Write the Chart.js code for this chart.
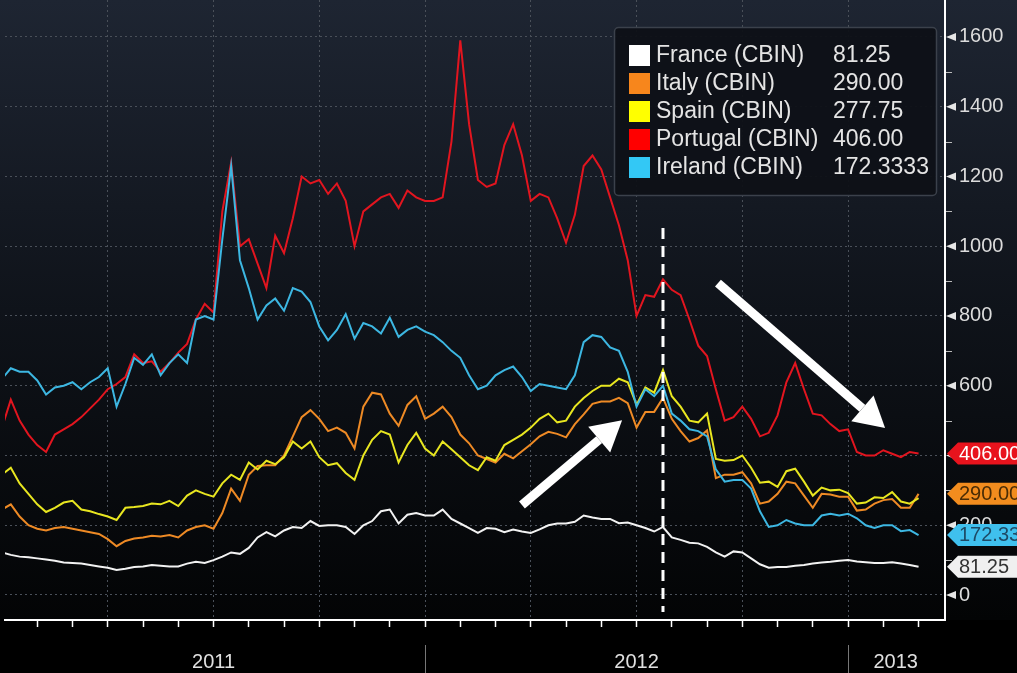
<!DOCTYPE html>
<html>
<head>
<meta charset="utf-8">
<script src="https://cdn.jsdelivr.net/npm/chart.js@4.4.0/dist/chart.umd.min.js"></script>
<style>
html, body { margin: 0; padding: 0; background: #000; }
#wrap { width: 1017px; height: 673px; }
</style>
</head>
<body>
<div id="wrap"><canvas id="cds" width="1017" height="673"></canvas></div>
<script>
// sample times, in months since 1 Jan 2011 (roughly weekly)
var t = [
  0, 0.25, 0.5, 0.75, 1, 1.25, 1.5, 1.75,
  2, 2.25, 2.5, 2.75, 3, 3.25, 3.5, 3.75,
  4, 4.25, 4.5, 4.75, 5, 5.25, 5.5, 5.75,
  6, 6.25, 6.5, 6.75, 7, 7.25, 7.5, 7.75,
  8, 8.25, 8.5, 8.75, 9, 9.25, 9.5, 9.75,
  10, 10.25, 10.5, 10.75, 11, 11.25, 11.5, 11.75,
  12, 12.25, 12.5, 12.75, 13, 13.25, 13.5, 13.75,
  14, 14.25, 14.5, 14.75, 15, 15.25, 15.5, 15.75,
  16, 16.25, 16.5, 16.75, 17, 17.25, 17.5, 17.75,
  18, 18.25, 18.5, 18.75, 19, 19.25, 19.5, 19.75,
  20, 20.25, 20.5, 20.75, 21, 21.25, 21.5, 21.75,
  22, 22.25, 22.5, 22.75, 23, 23.25, 23.5, 23.75,
  24, 24.25, 24.5, 24.75, 25, 25.25, 25.5, 25.75,
  26
];

var france = [
  122, 115, 110, 108, 105, 102, 98, 93, 92, 90,
  86, 82, 78, 72, 75, 80, 82, 86, 84, 82,
  82, 90, 95, 92, 100, 110, 122, 118, 135, 165,
  180, 168, 185, 195, 192, 212, 198, 200, 200, 195,
  175, 200, 212, 240, 245, 205, 230, 235, 228, 228,
  245, 218, 205, 192, 178, 192, 190, 180, 188, 182,
  178, 188, 200, 205, 205, 210, 228, 222, 218, 218,
  206, 208, 200, 192, 182, 195, 165, 158, 150, 148,
  138, 122, 110, 125, 122, 105, 88, 78, 80, 80,
  84, 86, 90, 93, 95, 98, 100, 96, 94, 92,
  92, 94, 90, 86, 81
];

var italy = [
  245, 260, 225, 200, 190, 185, 192, 195, 190, 185,
  180, 175, 160, 140, 155, 162, 165, 170, 168, 172,
  165, 185, 195, 200, 190, 235, 305, 270, 345, 370,
  372, 372, 400, 455, 510, 530, 505, 470, 480, 465,
  420, 540, 580, 575, 520, 485, 545, 570, 505, 520,
  540, 510, 460, 435, 400, 390, 380, 405, 392, 412,
  432, 455, 468, 462, 452, 490, 518, 548, 555, 555,
  565, 550, 480, 525, 525, 565, 505, 470, 440, 450,
  472, 335, 345, 345, 352, 320, 262, 268, 290, 325,
  320, 285, 250, 290, 288, 282, 282, 242, 245, 262,
  272, 275, 250, 250, 290
];

var spain = [
  345, 365, 320, 290, 260, 238, 250, 265, 270, 245,
  240, 232, 225, 215, 250, 252, 255, 262, 260, 270,
  255, 285, 300, 290, 282, 320, 345, 330, 380, 360,
  385, 375, 395, 440, 420, 440, 395, 372, 378, 350,
  330, 400, 445, 470, 460, 380, 430, 465, 420, 400,
  440, 418, 395, 372, 358, 395, 385, 430, 445, 460,
  480, 505, 520, 495, 500, 540, 565, 585, 600, 600,
  620, 610, 545, 595, 580, 645, 570, 540, 500, 495,
  520, 390, 385, 387, 400, 365, 322, 325, 310, 355,
  362, 325, 285, 308, 300, 302, 292, 262, 265, 280,
  278, 295, 268, 262, 278
];

var portugal = [
  480, 560, 500, 460, 430, 410, 460, 475, 490, 510,
  535, 560, 590, 605, 625, 690, 665, 670, 640, 665,
  695, 720, 790, 835, 810, 1100, 1240, 1000, 1020, 950,
  880, 1030, 980, 1080, 1200, 1180, 1190, 1150, 1180, 1130,
  1000, 1100, 1120, 1140, 1150, 1110, 1160, 1140, 1130, 1130,
  1140, 1300, 1590, 1350, 1190, 1170, 1180, 1290, 1350, 1260,
  1130, 1150, 1140, 1080, 1010, 1090, 1230, 1260, 1220, 1140,
  1060, 960, 800, 860, 855, 905, 875, 860, 790, 715,
  685, 590, 500, 510, 540, 505, 455, 465, 515, 610,
  665, 590, 520, 515, 490, 470, 475, 410, 400, 400,
  415, 405, 395, 410, 406
];

var ireland = [
  620, 650, 640, 640, 615, 575, 595, 600, 610, 590,
  610, 625, 650, 540, 605, 680, 660, 690, 630, 665,
  690, 665, 790, 800, 790, 1020, 1230, 960, 880, 790,
  830, 850, 815, 880, 870, 840, 770, 730, 760, 805,
  735, 780, 770, 750, 795, 740, 760, 770, 755, 745,
  725, 700, 680, 630, 590, 600, 630, 645, 655, 625,
  585, 605, 600, 595, 590, 630, 725, 745, 740, 710,
  700, 640, 540, 590, 570, 600, 520, 500, 475, 470,
  455, 360, 325, 330, 330, 305, 240, 195, 200, 215,
  205, 200, 200, 228, 233, 228, 233, 220, 200, 192,
  200, 200, 183, 186, 172
];

var names = ['France (CBIN)', 'Italy (CBIN)', 'Spain (CBIN)', 'Portugal (CBIN)', 'Ireland (CBIN)'];
var lastText = ['81.25', '290.00', '277.75', '406.00', '172.3333'];
var lastVal = [81.25, 290, 277.75, 406, 172.3333];
var tagText = ['81.25', '290.00', '277.75', '406.00', '172.33'];

var yTicks = [0, 200, 400, 600, 800, 1000, 1200, 1400, 1600];
var yMinor = [100, 300, 500, 700, 900, 1100, 1300, 1500];
var years = ['2011', '2012', '2013'];
var yearPos = [6, 18, 25.35];
var yearBreaks = [12, 24];

// annotations, in months / bp
var marker = { x: 18.75, from: 1052, to: -49 };
var arrows = [
  { x1: 14.75, y1: 258, x2: 17.59, y2: 501 },
  { x1: 20.31, y1: 894, x2: 25.05, y2: 479 }
];

var lineCol = ['#f2f2f2', '#ee8a25', '#e8e620', '#e2151f', '#3db7e2'];
var swatchCol = ['#ffffff', '#f7861c', '#ffff00', '#ff0000', '#33c8f5'];
var tagFill = ['#f0f0f0', '#f28c1e', '#f0ee1c', '#e8131d', '#3fc0ee'];
var tagInk = ['#333333', '#4a2c05', '#333333', '#ffffff', '#1d4a66'];

function pts(arr) {
  return arr.map(function(v, i) { return { x: t[i], y: v }; });
}

var FONT = '"Liberation Sans", Arial, sans-serif';

var deco = {
  id: 'deco',
  beforeDraw: function(chart) {
    var c = chart.ctx;
    c.save();
    c.fillStyle = '#000';
    c.fillRect(0, 0, chart.width, chart.height);
    var g = c.createLinearGradient(0, 0, 0, 620);
    g.addColorStop(0, '#1e2532');
    g.addColorStop(0.5, '#0f131a');
    g.addColorStop(1, '#030405');
    c.fillStyle = g;
    c.fillRect(0, 0, chart.width, 620);
    c.restore();
  },
  afterDatasetsDraw: function(chart) {
    var c = chart.ctx, xs = chart.scales.x, ys = chart.scales.y;
    c.save();
    // dashed marker line
    var mx = xs.getPixelForValue(marker.x);
    c.strokeStyle = '#fff';
    c.lineWidth = 3;
    c.setLineDash([11, 7]);
    c.beginPath();
    c.moveTo(mx, ys.getPixelForValue(marker.from));
    c.lineTo(mx, ys.getPixelForValue(marker.to));
    c.stroke();
    c.setLineDash([]);
    // arrows
    arrows.forEach(function(a) {
      var x1 = xs.getPixelForValue(a.x1), y1 = ys.getPixelForValue(a.y1);
      var x2 = xs.getPixelForValue(a.x2), y2 = ys.getPixelForValue(a.y2);
      var ang = Math.atan2(y2 - y1, x2 - x1);
      var hl = 30, hw = 17;
      var bx = x2 - hl * Math.cos(ang), by = y2 - hl * Math.sin(ang);
      c.strokeStyle = '#fff';
      c.fillStyle = '#fff';
      c.lineWidth = 9;
      c.beginPath();
      c.moveTo(x1, y1);
      c.lineTo(bx, by);
      c.stroke();
      c.beginPath();
      c.moveTo(x2, y2);
      c.lineTo(bx + hw * Math.sin(ang), by - hw * Math.cos(ang));
      c.lineTo(bx - hw * Math.sin(ang), by + hw * Math.cos(ang));
      c.closePath();
      c.fill();
    });
    c.restore();
  },
  afterDraw: function(chart) {
    var c = chart.ctx, xs = chart.scales.x, ys = chart.scales.y;
    var ax = chart.chartArea.right;
    c.save();
    // y tick pointers
    c.fillStyle = '#e6e6e6';
    yTicks.forEach(function(v) {
      var y = ys.getPixelForValue(v);
      c.beginPath();
      c.moveTo(ax + 1, y);
      c.lineTo(ax + 11, y - 4);
      c.lineTo(ax + 11, y + 4);
      c.closePath();
      c.fill();
    });
    c.strokeStyle = '#bbbbbb';
    c.lineWidth = 1;
    yMinor.forEach(function(v) {
      var y = Math.round(ys.getPixelForValue(v)) + 0.5;
      c.beginPath();
      c.moveTo(ax + 1, y);
      c.lineTo(ax + 7, y);
      c.stroke();
    });
    // year separators
    c.strokeStyle = '#777';
    yearBreaks.forEach(function(m) {
      var x = Math.round(xs.getPixelForValue(m)) + 0.5;
      c.beginPath();
      c.moveTo(x, 645);
      c.lineTo(x, 673);
      c.stroke();
    });
    // last value tags (Spain's sits under Italy's and is not shown)
    [1, 3, 4, 0].forEach(function(i) {
      var y = ys.getPixelForValue(lastVal[i]);
      c.fillStyle = tagFill[i];
      c.beginPath();
      c.moveTo(ax + 2, y);
      c.lineTo(ax + 13, y - 11);
      c.lineTo(chart.width, y - 11);
      c.lineTo(chart.width, y + 11);
      c.lineTo(ax + 13, y + 11);
      c.closePath();
      c.fill();
      c.fillStyle = tagInk[i];
      c.font = '20px ' + FONT;
      c.textBaseline = 'middle';
      c.textAlign = 'left';
      c.fillText(tagText[i], ax + 14, y + 1);
    });
    // legend box
    c.fillStyle = 'rgba(14,17,23,0.95)';
    c.strokeStyle = '#3b414b';
    c.lineWidth = 1.5;
    c.beginPath();
    c.roundRect(614.5, 27.5, 322, 168, 4);
    c.fill();
    c.stroke();
    c.font = '23px ' + FONT;
    c.textBaseline = 'middle';
    names.forEach(function(n, i) {
      var y = 55 + i * 28;
      c.fillStyle = swatchCol[i];
      c.fillRect(629, y - 10, 21, 21);
      c.fillStyle = '#e4e4e4';
      c.fillText(n, 656, y + 1);
      c.fillText(lastText[i], 833, y + 1);
    });
    c.restore();
  }
};

var common = { borderWidth: 2, pointRadius: 0, tension: 0, fill: false };

new Chart(document.getElementById('cds'), {
  type: 'line',
  data: {
    datasets: [
      Object.assign({ label: names[0], data: pts(france), borderColor: lineCol[0], order: 1 }, common),
      Object.assign({ label: names[1], data: pts(italy), borderColor: lineCol[1], order: 4 }, common),
      Object.assign({ label: names[2], data: pts(spain), borderColor: lineCol[2], order: 3 }, common),
      Object.assign({ label: names[3], data: pts(portugal), borderColor: lineCol[3], order: 5 }, common),
      Object.assign({ label: names[4], data: pts(ireland), borderColor: lineCol[4], order: 2 }, common)
    ]
  },
  options: {
    responsive: false,
    animation: false,
    devicePixelRatio: 1,
    layout: { padding: { left: 5, top: 0, right: 0, bottom: 0 } },
    plugins: {
      legend: { display: false },
      tooltip: { enabled: false }
    },
    scales: {
      x: {
        type: 'linear',
        min: 0.085,
        max: 26.75,
        afterFit: function(s) {
          s.height = 53;
          s.paddingLeft = 0; s.paddingRight = 0;
        },
        afterBuildTicks: function(s) {
          var ticks = [];
          for (var m = 1; m <= 26; m++) ticks.push({ value: m });
          ticks.push({ value: yearPos[2] });
          ticks.sort(function(a, b) { return a.value - b.value; });
          s.ticks = ticks;
        },
        ticks: {
          autoSkip: false,
          maxRotation: 0,
          padding: 23,
          color: '#e0e0e0',
          font: { family: FONT, size: 20 },
          callback: function(v) {
            var i = yearPos.indexOf(v);
            return i >= 0 ? years[i] : '';
          }
        },
        grid: {
          color: function(ctx) {
            return (ctx.tick && ctx.tick.value % 3 === 0) ? '#4a5059' : 'rgba(0,0,0,0)';
          },
          tickColor: function(ctx) {
            return (ctx.tick && Number.isInteger(ctx.tick.value)) ? '#ffffff' : 'rgba(0,0,0,0)';
          },
          tickLength: 7,
          tickWidth: 1.5,
          lineWidth: 1
        },
        border: { display: true, color: '#ffffff', width: 2, dash: [2, 3] }
      },
      y: {
        type: 'linear',
        position: 'right',
        min: -71.7,
        max: 1706,
        afterFit: function(s) {
          s.width = 72;
          s.paddingTop = 0; s.paddingBottom = 0;
        },
        afterBuildTicks: function(s) {
          s.ticks = yTicks.map(function(v) { return { value: v }; });
        },
        ticks: {
          padding: 14,
          color: '#dcdcdc',
          font: { family: FONT, size: 20 },
          callback: function(v) { return String(v); }
        },
        grid: {
          color: '#4a5059',
          drawTicks: false,
          lineWidth: 1
        },
        border: { display: true, color: '#ffffff', width: 2, dash: [2, 3] }
      }
    }
  },
  plugins: [deco]
});
</script>
</body>
</html>
